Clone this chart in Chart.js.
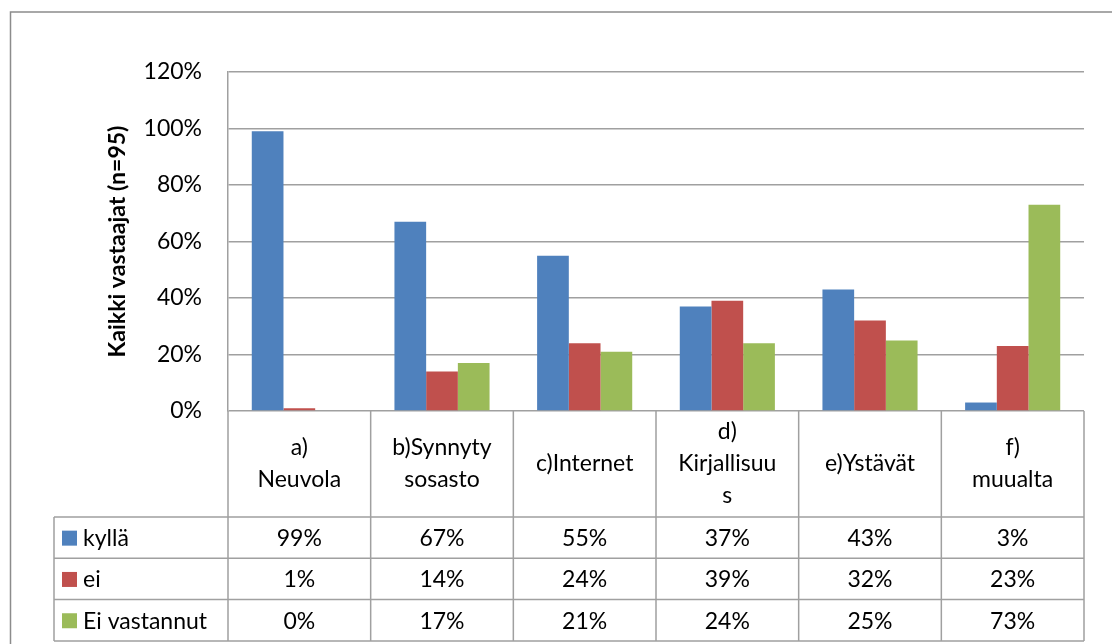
<!DOCTYPE html>
<html>
<head>
<meta charset="utf-8">
<script src="https://cdn.jsdelivr.net/npm/chart.js@4"></script>
<style>
  html, body { margin: 0; padding: 0; background: #fff; }
  #wrap { width: 1112px; height: 644px; position: relative; }
</style>
</head>
<body>
<div id="wrap"><canvas id="chart"></canvas></div>
<script>
// kategoriat (rivitetty kuten alkuperäisessä taulukossa)
const categories = [
    ['a)', 'Neuvola'],
    ['b)Synnyty', 'sosasto'],
    ['c)Internet'],
    ['d)', 'Kirjallisuu', 's'],
    ['e)Ystävät'],
    ['f)', 'muualta']
];
const seriesNames = ['kyllä', 'ei', 'Ei vastannut'];
const kylla = [99, 67, 55, 37, 43, 3];
const ei = [1, 14, 24, 39, 32, 23];
const eiVastannut = [0, 17, 21, 24, 25, 73];
const yTicks = [0, 20, 40, 60, 80, 100, 120];
const yTitle = 'Kaikki vastaajat (n=95)';

const colors = ['#4F81BD', '#C0504D', '#9BBB59'];
const FONT = 'Lato, "Open Sans", sans-serif';
const LINE = '#a0a0a0';
const FS = 23;

// taulukko + ulkoreunus
const tablePlugin = {
    id: 'dataTable',
    beforeDraw(chart) {
        const c = chart.ctx;
        c.save();
        c.strokeStyle = '#8c8c8c';
        c.lineWidth = 1.5;
        c.beginPath();
        c.moveTo(10.5, chart.height);
        c.lineTo(10.5, 12);
        c.lineTo(chart.width, 12);
        c.stroke();
        c.restore();
    },
    afterDraw(chart) {
        const c = chart.ctx;
        const x = chart.scales.x;
        const area = chart.chartArea;
        const colW = area.width / categories.length;
        const top = area.bottom;
        const headerBottom = top + 106;
        const rowH = 41.3;
        const legendLeft = 54;
        const series = [kylla, ei, eiVastannut];
        const tableBottom = headerBottom + rowH * series.length;

        c.save();
        c.strokeStyle = LINE;
        c.lineWidth = 1.5;
        c.beginPath();
        // pystyviivat
        for (let i = 0; i <= categories.length; i++) {
            const px = area.left + colW * i;
            c.moveTo(px, top);
            c.lineTo(px, tableBottom);
        }
        c.moveTo(legendLeft, headerBottom);
        c.lineTo(legendLeft, tableBottom);
        // vaakaviivat
        for (let r = 0; r <= series.length; r++) {
            const py = headerBottom + rowH * r;
            c.moveTo(legendLeft, py);
            c.lineTo(area.right, py);
        }
        c.stroke();

        c.fillStyle = '#000';
        c.font = FS + 'px ' + FONT;
        c.textAlign = 'center';
        c.textBaseline = 'middle';
        // otsikkorivi
        categories.forEach((lines, i) => {
            const cx = x.getPixelForValue(i);
            const cy = (top + headerBottom) / 2;
            const lh = 32;
            lines.forEach((t, k) => {
                c.fillText(t, cx, cy + (k - (lines.length - 1) / 2) * lh);
            });
        });
        // datarivit
        series.forEach((vals, r) => {
            const cy = headerBottom + rowH * r + rowH / 2;
            c.fillStyle = colors[r];
            c.fillRect(62, cy - 7, 15, 15);
            c.fillStyle = '#000';
            c.textAlign = 'left';
            c.fillText(seriesNames[r], 83, cy + 1);
            c.textAlign = 'center';
            vals.forEach((v, i) => {
                c.fillText(v + '%', x.getPixelForValue(i), cy + 1);
            });
        });
        c.restore();
    }
};

new Chart(document.getElementById('chart').getContext('2d'), {
    type: 'bar',
    data: {
        labels: categories.map(l => l.join(' ')),
        datasets: [
            { label: seriesNames[0], data: kylla, backgroundColor: colors[0] },
            { label: seriesNames[1], data: ei, backgroundColor: colors[1] },
            { label: seriesNames[2], data: eiVastannut, backgroundColor: colors[2] }
        ]
    },
    options: {
        responsive: true,
        maintainAspectRatio: false,
        animation: false,
        layout: { padding: { left: 0, top: 72, right: 28, bottom: 233 } },
        datasets: { bar: { categoryPercentage: 3 / 4.5, barPercentage: 1 } },
        plugins: {
            legend: { display: false },
            tooltip: { enabled: false }
        },
        scales: {
            x: { display: false },
            y: {
                min: 0,
                max: 120,
                afterBuildTicks: s => { s.ticks = yTicks.map(v => ({ value: v })); },
                afterFit: s => { s.width = 228; },
                ticks: {
                    color: '#000',
                    padding: 26,
                    font: { family: FONT, size: FS },
                    callback: v => v + '%'
                },
                grid: { color: LINE, lineWidth: 1.5, drawTicks: false },
                border: { display: true, color: LINE, width: 1.5 },
                title: {
                    display: true,
                    text: yTitle,
                    color: '#000',
                    font: { family: FONT, size: 23, weight: 'bold' },
                    padding: { top: 104, bottom: 0 }
                }
            }
        }
    },
    plugins: [tablePlugin]
});
</script>
</body>
</html>
